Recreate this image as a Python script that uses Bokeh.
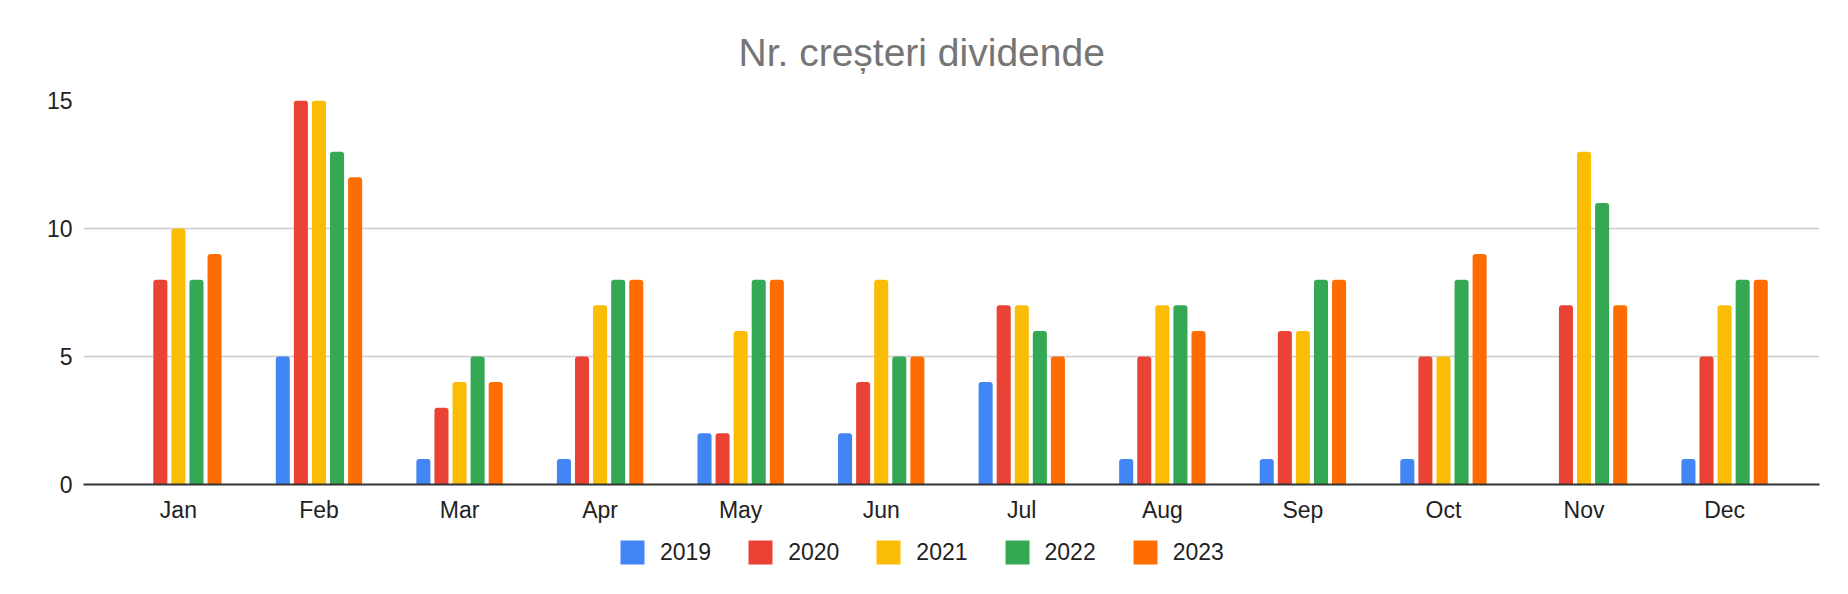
from bokeh.plotting import figure
from bokeh.layouts import column
from bokeh.models import ColumnDataSource, FactorRange, Range1d, Legend, LegendItem, FixedTicker
from bokeh.transform import dodge
from bokeh.embed import file_html
from bokeh.resources import INLINE

months = ["Jan", "Feb", "Mar", "Apr", "May", "Jun", "Jul", "Aug", "Sep", "Oct", "Nov", "Dec"]
years = ["2019", "2020", "2021", "2022", "2023"]
v2019 = [0, 5, 1, 1, 2, 2, 4, 1, 1, 1, 0, 1]
v2020 = [8, 15, 3, 5, 2, 4, 7, 5, 6, 5, 7, 5]
v2021 = [10, 15, 4, 7, 6, 8, 7, 7, 6, 5, 13, 7]
v2022 = [8, 13, 5, 8, 8, 5, 6, 7, 8, 8, 11, 8]
v2023 = [9, 12, 4, 8, 8, 5, 5, 6, 8, 9, 7, 8]
y_ticks = [0, 5, 10, 15]
title_text = "Nr. creșteri dividende"

colors = ["#4285F4", "#EA4335", "#FBBC04", "#34A853", "#FF6D01"]
series = [v2019, v2020, v2021, v2022, v2023]

data = {"month": months}
for yr, vals in zip(years, series):
    data["y" + yr] = vals
source = ColumnDataSource(data)

FONT = "Liberation Sans"

p = figure(
    width=1832, height=530,
    x_range=FactorRange(factors=months, range_padding=0.0292, range_padding_units="percent"),
    y_range=Range1d(0, 15),
    output_backend="svg", toolbar_location=None,
    min_border_left=83, min_border_right=13, min_border_top=100, min_border_bottom=46,
)
p.outline_line_color = None
p.background_fill_color = "white"

offsets = [-0.2572, -0.1286, 0.0, 0.1286, 0.2572]
for yr, col, off in zip(years, colors, offsets):
    p.vbar(x=dodge("month", off, range=p.x_range), top="y" + yr, width=0.1,
           source=source, fill_color=col, line_color=None,
           border_radius=(3, 3, 0, 0))

# title
p.title.text = title_text
p.title.align = "left"
p.title.offset = 655
p.title.text_font = FONT
p.title.text_font_size = "39px"
p.title.text_font_style = "normal"
p.title.text_color = "#757575"
p.title.standoff = 54

# y axis
p.yaxis.ticker = FixedTicker(ticks=y_ticks)
p.yaxis.axis_line_color = None
p.yaxis.major_tick_line_color = None
p.yaxis.minor_tick_line_color = None
p.yaxis.major_tick_out = 0
p.yaxis.major_tick_in = 0
p.yaxis.minor_tick_out = 0
p.yaxis.major_label_standoff = 11
p.yaxis.major_label_text_font = FONT
p.yaxis.major_label_text_font_size = "23px"
p.yaxis.major_label_text_color = "#222222"

# x axis
p.xaxis.axis_line_color = "#333333"
p.xaxis.axis_line_width = 2
p.xaxis.major_tick_line_color = None
p.xaxis.minor_tick_line_color = None
p.xaxis.major_tick_out = 0
p.xaxis.major_tick_in = 0
p.xaxis.minor_tick_out = 0
p.xaxis.major_label_standoff = 12
p.xaxis.major_label_text_font = FONT
p.xaxis.major_label_text_font_size = "23px"
p.xaxis.major_label_text_color = "#222222"

p.xgrid.grid_line_color = None
p.ygrid.grid_line_color = "#cccccc"
p.ygrid.grid_line_width = 1.5

# legend strip below the chart (frame aligned with the chart's frame)
lf = figure(
    width=1832, height=48, x_range=Range1d(0, 1), y_range=Range1d(0, 1),
    output_backend="svg", toolbar_location=None,
    min_border_left=0, min_border_right=0, min_border_top=0, min_border_bottom=0,
)
lf.axis.visible = False
lf.grid.visible = False
lf.outline_line_color = None
items = []
for yr, col in zip(years, colors):
    # off-range placeholder renderer: only its legend swatch is shown
    r = lf.vbar(x=[-5], top=[-5], bottom=[-6], width=0.1, fill_color=col, line_color=None,
                border_radius=3)
    items.append(LegendItem(label=yr, renderers=[r]))

legend = Legend(items=items, orientation="horizontal", location=(534, 11))
legend.label_text_font = FONT
legend.label_text_font_size = "23px"
legend.label_text_color = "#222222"
legend.glyph_width = 30
legend.glyph_height = 30
legend.label_standoff = 13
legend.spacing = 34
legend.padding = 0
legend.margin = 0
legend.border_line_color = None
legend.background_fill_alpha = 0
lf.add_layout(legend)

layout = column(p, lf, spacing=0)
open("out.html", "w").write(file_html(layout, INLINE))
